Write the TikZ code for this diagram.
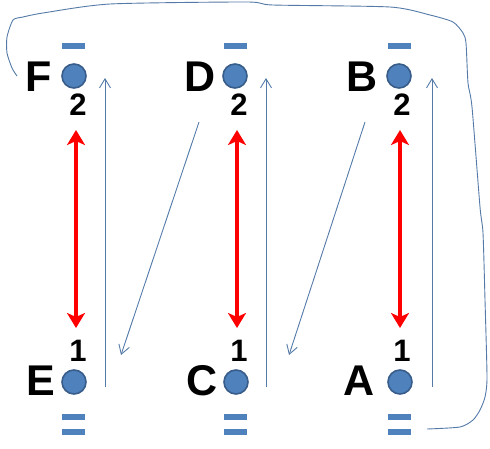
\documentclass[tikz,border=0pt]{standalone}
\usepackage{fontspec}
\setmainfont{Liberation Sans}
\usetikzlibrary{arrows.meta}
\definecolor{dotfill}{RGB}{79,129,189}
\definecolor{dotedge}{RGB}{56,93,138}
\definecolor{thin}{RGB}{84,122,168}
\tikzset{
  dot/.style={circle,fill=dotfill,draw=dotedge,line width=1.6pt,minimum size=24pt,inner sep=0pt},
  bar/.style={rectangle,fill=dotfill,minimum width=23pt,minimum height=6pt,inner sep=0pt},
  letter/.style={anchor=base,inner sep=0pt,font=\fontsize{43}{43}\selectfont\bfseries},
  num/.style={anchor=base,inner sep=0pt,font=\fontsize{31}{31}\selectfont\bfseries},
  redarrow/.style={draw=red,line width=4pt,{Stealth[width=18pt,length=15pt,inset=4pt]}-{Stealth[width=18pt,length=15pt,inset=4pt]}},
  thinarrow/.style={draw=thin,line width=0.9pt,-{Straight Barb[length=9pt,width=11pt]}},
  loopline/.style={draw=thin,line width=0.9pt}
}
\begin{document}
\begin{tikzpicture}[x=1pt,y=-1pt]
\useasboundingbox (0,0) rectangle (490,448);
% circles
\node[dot] (cF) at (74,76) {};
\node[dot] (cD) at (235,76) {};
\node[dot] (cB) at (399,76) {};
\node[dot] (cE) at (74,382) {};
\node[dot] (cC) at (236,382) {};
\node[dot] (cA) at (400,382) {};
% top bars
\node[bar] (tF) at (73.5,46) {};
\node[bar] (tD) at (235,46) {};
\node[bar] (tB) at (399,46) {};
% bottom double bars
\node[bar] (bE1) at (73.5,416.5) {};
\node[bar] (bE2) at (73.5,432) {};
\node[bar] (bC1) at (235,416.5) {};
\node[bar] (bC2) at (235,432) {};
\node[bar] (bA1) at (399,416.5) {};
\node[bar] (bA2) at (399,432) {};
% letters
\node[letter] (lF) at (39,91) {F};
\node[letter] (lD) at (200,91) {D};
\node[letter] (lB) at (362,91) {B};
\node[letter] (lE) at (41,395) {E};
\node[letter] (lC) at (202,395) {C};
\node[letter] (lA) at (359,395) {A};
% numbers
\node[num] (nF) at (78,115) {2};
\node[num] (nD) at (239,115) {2};
\node[num] (nB) at (402,115) {2};
\node[num] (nE) at (78,361) {1};
\node[num] (nC) at (239,361) {1};
\node[num] (nA) at (402,361) {1};
% red arrow ends
\coordinate (rF) at (76,130);
\coordinate (rE) at (76,328);
\coordinate (rD) at (237,130);
\coordinate (rC) at (237,328);
\coordinate (rB) at (400,130);
\coordinate (rA) at (400,328);
\draw[redarrow] (rF) -- (rE);
\draw[redarrow] (rD) -- (rC);
\draw[redarrow] (rB) -- (rA);
% thin vertical arrows
\coordinate (u1s) at (105,387); \coordinate (u1e) at (105,78);
\coordinate (u2s) at (266,387); \coordinate (u2e) at (266,78);
\coordinate (u3s) at (432,387); \coordinate (u3e) at (432,78);
\draw[thinarrow] (u1s) -- (u1e);
\draw[thinarrow] (u2s) -- (u2e);
\draw[thinarrow] (u3s) -- (u3e);
% diagonal arrows
\coordinate (d1s) at (199,122); \coordinate (d1e) at (121,355);
\coordinate (d2s) at (365,122); \coordinate (d2e) at (289,355);
\draw[thinarrow] (d1s) -- (d1e);
\draw[thinarrow] (d2s) -- (d2e);
% big loop
\draw[loopline] plot[smooth,tension=0.4] coordinates {(17,76) (12,68) (7,53) (7,37) (13,20) (23,17) (43,13) (110,4) (247,2) (273,5) (390,7) (430,15) (453,22) (463,33) (466,43) (468,83) (472,107) (480,207) (483,233) (485,300) (487,377) (485,397) (480,410) (473,420) (460,427) (427,429)};
\end{tikzpicture}
\end{document}
